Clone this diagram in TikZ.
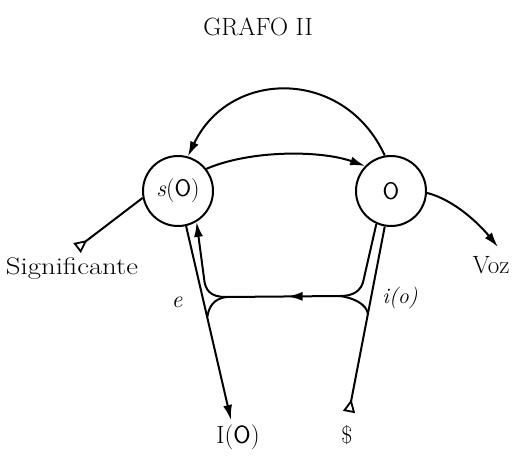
\documentclass[tikz,border=0pt]{standalone}
\usepackage{fontspec}
\usepackage{graphicx}
\usetikzlibrary{arrows.meta,calc,decorations.markings}
\begin{document}
\begin{tikzpicture}[x=1pt,y=-1pt,
  line width=2pt,
  every node/.style={font=\fontsize{24}{28}\selectfont},
  circ/.style={draw, circle, minimum size=70pt, inner sep=0pt},
  tip/.style={-{Latex[length=15pt,width=9pt]}},
  opentail/.style={{Triangle[open,reversed,length=13pt,width=12pt,line width=1.8pt]}-},
  openhead/.style={-{Triangle[open,reversed,length=13pt,width=12pt,line width=1.8pt]}},
  midarrow/.style={postaction={decorate}, decoration={markings, mark=at position 0.46 with {\arrow{Latex[length=15pt,width=9pt]}}}},
  ]
\useasboundingbox (0,0) rectangle (528,472);
\node[font=\fontsize{25}{28}\selectfont] (title) at (258,27) {GRAFO II};
\node[circ] (L) at (178,191) {\textit{s}(\textsf{O})};
\node[circ] (R) at (391,191) {\textsf{O}};
% upper arcs
\draw[tip] (R.100) .. controls (345,68) and (230,68) .. (L.74);
\draw[tip] (L.38) .. controls (250,150) and (320,150) .. (R.136);
% significante and voz
\coordinate (sig) at (77,248);
\draw[opentail] (sig) -- (L.191);
\coordinate (voz) at (498,247);
\draw[tip] (R.-3) .. controls (455,200) and (480,225) .. (voz);
% left branch
\coordinate (io) at (231,420);
\draw[tip] (L.-77) -- (io);
\coordinate (Jl) at (226,297);
\coordinate (Jr) at (340,296);
\draw[tip] (Jl) .. controls (210,297) and (205,290) .. (204,278) -- (L.-59);
\draw (Jl) .. controls (214,299) and (209,306) .. ($(L.-77)!0.47!(io)$);
% right branch
\coordinate (sb) at (349,412);
\draw[openhead] (R.-100) -- (sb);
\draw (R.-114) -- (364,278) .. controls (362,292) and (352,296) .. (Jr);
\draw (Jr) .. controls (354,298) and (366,304) .. ($(R.-100)!0.47!(sb)$);
\draw[midarrow] (Jr) -- (Jl);
% labels
\node[anchor=base] (sigt) at (72,274) {\scalebox{1.2}[1]{Significante}};
\node[anchor=base,font=\fontsize{25}{28}\selectfont] (vozt) at (491,273) {Voz};
\node (elab) at (177,302) {\textit{e}};
\node[font=\fontsize{22}{26}\selectfont] (ilab) at (400,298) {\textit{i(o)}};
\node[font=\fontsize{25}{28}\selectfont] (IO) at (238,437) {I(\textsf{O})};
\node (Sb) at (347,435) {\$};
\end{tikzpicture}
\end{document}
